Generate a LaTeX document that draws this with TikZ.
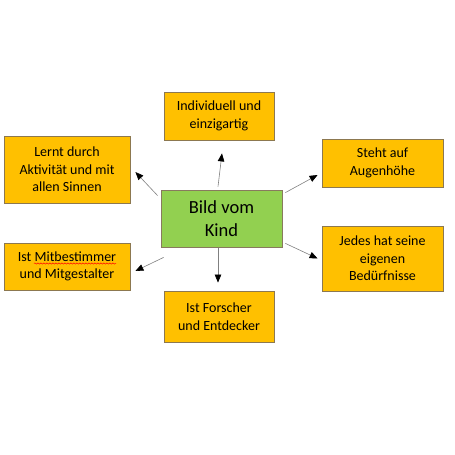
\documentclass[tikz,border=0pt]{standalone}
\usepackage{fontspec}
\setmainfont{Carlito}
\usetikzlibrary{arrows.meta,decorations.pathmorphing}

\definecolor{kastenorange}{RGB}{255,192,0}
\definecolor{kastengruen}{RGB}{146,208,80}
\definecolor{randfarbe}{RGB}{140,120,80}

\tikzset{
  kasten/.style={draw=randfarbe, line width=0.8pt, fill=kastenorange, align=center,
                 inner sep=2pt, font=\fontsize{14}{17.5}\selectfont},
  mitte/.style={draw=randfarbe!70!gray, line width=0.8pt, fill=kastengruen, align=center,
                font=\fontsize{18.5}{23}\selectfont},
  pfeil/.style={draw=black!50, line width=0.6pt,
                -{Triangle[length=8pt,width=6.5pt,fill=black,color=black]}},
}

\begin{document}
\begin{tikzpicture}[x=1pt,y=-1pt]
    % Seite 455 x 455, y nach unten
    \useasboundingbox (0,0) rectangle (455,455);
    \node[mitte, minimum width=121pt, minimum height=57pt] (kind) at (221.5,218.5) {Bild vom\\Kind};
    \node[kasten, minimum width=110pt, minimum height=48pt] (indiv) at (219,116) {Individuell und\\einzigartig};
    \node[kasten, minimum width=126pt, minimum height=67pt] (lernt) at (67,169.5) {Lernt durch\\Aktivität und mit\\allen Sinnen};
    \node[kasten, minimum width=126pt, minimum height=47pt] (mitbest) at (67,266.5) {Ist Mitbestimmer\\und Mitgestalter};
    \node[kasten, minimum width=121pt, minimum height=48pt] (steht) at (382.5,163) {Steht auf\\Augenhöhe};
    \node[kasten, minimum width=121pt, minimum height=65pt] (jedes) at (382.5,258.5) {Jedes hat seine\\eigenen\\Bedürfnisse};
    \node[kasten, minimum width=110pt, minimum height=51pt] (forscher) at (219,316.5) {Ist Forscher\\und Entdecker};
    % Rechtschreib-Wellenlinie
    \draw[red, line width=0.5pt, decorate, decoration={snake, amplitude=0.6pt, segment length=3pt}]
      ([shift={(-33,-3)}]mitbest.center) -- ([shift={(49,-3)}]mitbest.center);
    % Pfeile
    \draw[pfeil] ([shift={(-3.5,-3)}]kind.north) -- ([shift={(3,13)}]indiv.south);
    \draw[pfeil] ([shift={(-3,6)}]kind.north west) -- ([shift={(5,2.5)}]lernt.east);
    \draw[pfeil] ([shift={(3,10)}]kind.south west) -- ([shift={(5,4.5)}]mitbest.east);
    \draw[pfeil] ([shift={(3,3)}]kind.north east) -- ([shift={(-4,12)}]steht.west);
    \draw[pfeil] ([shift={(3,-4)}]kind.south east) -- ([shift={(-4,0)}]jedes.west);
    \draw[pfeil] ([shift={(-3.5,1)}]kind.south) -- ([shift={(-1,-8)}]forscher.north);
\end{tikzpicture}
\end{document}
